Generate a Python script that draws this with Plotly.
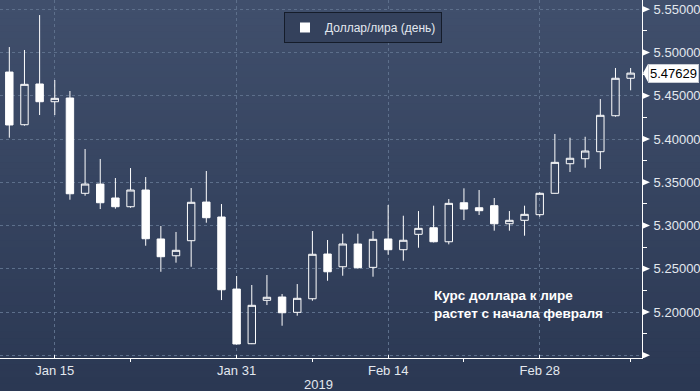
import plotly.graph_objects as go

# ---------------- data ----------------
dates = [
    "2019-01-09", "2019-01-10", "2019-01-11", "2019-01-14", "2019-01-15", "2019-01-16",
    "2019-01-17", "2019-01-18", "2019-01-21", "2019-01-22", "2019-01-23", "2019-01-24",
    "2019-01-25", "2019-01-28", "2019-01-29", "2019-01-30", "2019-01-31", "2019-02-01",
    "2019-02-04", "2019-02-05", "2019-02-06", "2019-02-07", "2019-02-08", "2019-02-11",
    "2019-02-12", "2019-02-13", "2019-02-14", "2019-02-15", "2019-02-18", "2019-02-19",
    "2019-02-20", "2019-02-21", "2019-02-22", "2019-02-25", "2019-02-26", "2019-02-27",
    "2019-02-28", "2019-03-01", "2019-03-04", "2019-03-05", "2019-03-06", "2019-03-07",
    "2019-03-08",
]
opens = [
    5.4856, 5.4775, 5.4166, 5.4637, 5.4432, 5.4475,
    5.3373, 5.3480, 5.3319, 5.3218, 5.3411, 5.2845,
    5.2651, 5.2825, 5.3272, 5.3099, 5.2266, 5.1634,
    5.2136, 5.2174, 5.1997, 5.2154, 5.2671, 5.2524,
    5.2787, 5.2517, 5.2845, 5.2721, 5.2899, 5.2975,
    5.2813, 5.3264, 5.3206, 5.3230, 5.3021, 5.3061,
    5.3126, 5.3373, 5.3715, 5.3773, 5.3854, 5.4270,
    5.4703,
]
highs = [
    5.4990, 5.5064, 5.5030, 5.5434, 5.4683, 5.4556,
    5.3885, 5.3770, 5.3550, 5.3665, 5.3561, 5.2995,
    5.2926, 5.3434, 5.3631, 5.3249, 5.2417, 5.2313,
    5.2428, 5.2209, 5.2324, 5.2937, 5.2833, 5.2906,
    5.2906, 5.2937, 5.3238, 5.3114, 5.3168, 5.3230,
    5.3307, 5.3431, 5.3411, 5.3319, 5.3168, 5.3230,
    5.3385, 5.4059, 5.4016, 5.4027, 5.4463, 5.4822,
    5.4822,
]
lows = [
    5.4700, 5.4016, 5.4155, 5.4278, 5.4278, 5.3299,
    5.3345, 5.3191, 5.3195, 5.3206, 5.2767, 5.2466,
    5.2571, 5.2524, 5.3033, 5.2139, 5.1625, 5.1630,
    5.2081, 5.1842, 5.1958, 5.2131, 5.2362, 5.2420,
    5.2501, 5.2409, 5.2663, 5.2594, 5.2744, 5.2805,
    5.2783, 5.3064, 5.3122, 5.2941, 5.2941, 5.2883,
    5.3102, 5.3370, 5.3619, 5.3669, 5.3654, 5.4259,
    5.4564,
]
closes = [
    5.4767, 5.4163, 5.4633, 5.4432, 5.4471, 5.3368,
    5.3480, 5.3264, 5.3218, 5.3411, 5.2848, 5.2640,
    5.2714, 5.3269, 5.3091, 5.2258, 5.1631, 5.2078,
    5.2171, 5.1992, 5.2159, 5.2668, 5.2466, 5.2787,
    5.2513, 5.2841, 5.2721, 5.2830, 5.2968, 5.2813,
    5.3257, 5.3191, 5.3172, 5.3021, 5.3061, 5.3130,
    5.3373, 5.3731, 5.3778, 5.3862, 5.4275, 5.4703,
    5.47629,
]

x_tick_dates = ["2019-01-15", "2019-01-31", "2019-02-14", "2019-02-28"]
x_tick_labels = ["Jan 15", "Jan 31", "Feb 14", "Feb 28"]
x_minor_dates = ["2019-01-22", "2019-02-07", "2019-02-21", "2019-03-08"]
y_tick_values = [5.15, 5.20, 5.25, 5.30, 5.35, 5.40, 5.45, 5.50, 5.55]
y_tick_labels = [""] + ["%.5f" % v for v in y_tick_values[1:]]
series_name = "Доллар/лира (день)"
note_text = "Курс доллара к лире<br>растет с начала февраля"
year_label = "2019"

# ---------------- figure ----------------
W, H = 700, 391
ML, MR, MT, MB = 0, 58, 0, 33
PW, PH = W - ML - MR, H - MT - MB

FONT = "Liberation Sans, Arial, sans-serif"
TXT = "#e3e8ef"
GRID = "#5d6f8b"

fig = go.Figure()
fig.add_trace(go.Candlestick(
    x=dates, open=opens, high=highs, low=lows, close=closes,
    increasing=dict(line=dict(color="white", width=1), fillcolor="rgba(0,0,0,0)"),
    decreasing=dict(line=dict(color="white", width=1), fillcolor="white"),
    whiskerwidth=0, showlegend=False, hoverinfo="skip",
))
fig.add_trace(go.Scatter(
    x=[None], y=[None], mode="markers", name=series_name,
    marker=dict(symbol="square", size=10, color="white"),
))

# background gradient stripes
shapes = []
top_c = (64, 79, 108)
bot_c = (43, 56, 83)
N = 60
y_top = 1.0
y_bot = -MB / PH
for i in range(N):
    t = i / (N - 1)
    c = tuple(round(top_c[k] + (bot_c[k] - top_c[k]) * t) for k in range(3))
    y1 = y_top - (y_top - y_bot) * i / N
    y0 = y_top - (y_top - y_bot) * (i + 1) / N
    shapes.append(dict(type="rect", xref="paper", yref="paper", x0=-0.01, x1=W / PW + 0.01,
                       y0=y0 - 0.002, y1=y1 + 0.002, line=dict(width=0),
                       fillcolor="rgb(%d,%d,%d)" % c, layer="below"))

# triangular tick markers on the right axis
for v in y_tick_values:
    shapes.append(dict(type="path", xref="paper", yref="y", xsizemode="pixel", ysizemode="pixel",
                       xanchor=1, yanchor=v, path="M 0,-3.5 L 8,0 L 0,3.5 Z",
                       fillcolor="white", line=dict(width=0), layer="above"))

# last price tag arrow
shapes.append(dict(type="path", xref="paper", yref="y", xsizemode="pixel", ysizemode="pixel",
                   xanchor=1, yanchor=closes[-1], path="M 1,0 L 6,9 L 6,-9 Z",
                   fillcolor="white", line=dict(width=0), layer="above"))

annotations = [
    dict(xref="paper", yref="y", x=1, y=closes[-1], xanchor="left", yanchor="middle",
         xshift=6, text="%.5f" % closes[-1], showarrow=False, bgcolor="white",
         bordercolor="#c8ccd4", borderwidth=1, borderpad=1,
         font=dict(family=FONT, size=13, color="black")),
    dict(xref="paper", yref="paper", x=318 / PW, y=1 - 384.5 / PH, xanchor="center",
         yanchor="middle", text=year_label, showarrow=False,
         font=dict(family=FONT, size=13, color=TXT)),
    dict(xref="paper", yref="paper", x=432 / PW, y=1 - 304.5 / PH, xanchor="left",
         yanchor="middle", align="left", text="<b>" + note_text.replace("<br>", "</b><br><b>") + "</b>",
         showarrow=False, font=dict(family=FONT, size=13.5, color="white")),
]

fig.update_layout(
    width=W, height=H,
    margin=dict(l=ML, r=MR, t=MT, b=MB, autoexpand=False),
    paper_bgcolor="#35425e", plot_bgcolor="rgba(0,0,0,0)",
    font=dict(family=FONT, color=TXT, size=13),
    showlegend=True,
    legend=dict(x=363 / PW, y=1 - 12 / PH, xanchor="center", yanchor="top",
                bgcolor="#34415c", bordercolor="#151c2a", borderwidth=1,
                font=dict(family=FONT, size=12, color=TXT), itemwidth=30),
    shapes=shapes,
    annotations=annotations,
    hovermode=False,
    xaxis=dict(
        type="date",
        range=["2019-01-09 09:15", "2019-03-08 18:00"],
        rangebreaks=[dict(bounds=["sat", "mon"])],
        rangeslider=dict(visible=False),
        tickmode="array", tickvals=x_tick_dates, ticktext=x_tick_labels,
        ticks="inside", ticklen=3, tickcolor="white", tickwidth=1,
        showline=True, linecolor="white", linewidth=1,
        showgrid=True, gridcolor=GRID, gridwidth=1, griddash="3px,3px",
        minor=dict(tickmode="array", tickvals=x_minor_dates, ticks="outside",
                   ticklen=3, tickcolor="white", tickwidth=1, showgrid=False),
        zeroline=False, tickfont=dict(family=FONT, size=13, color=TXT),
    ),
    yaxis=dict(
        side="right",
        range=[5.1469, 5.5608],
        tickmode="array", tickvals=y_tick_values, ticktext=y_tick_labels,
        ticks="", ticklabelstandoff=8,
        showline=True, linecolor="white", linewidth=1,
        showgrid=True, gridcolor=GRID, gridwidth=1, griddash="3px,3px",
        minor=dict(dtick=0.025, tick0=5.15, ticks="outside", ticklen=4,
                   tickcolor="white", tickwidth=1, showgrid=False),
        zeroline=False, tickfont=dict(family=FONT, size=13, color=TXT),
    ),
)

fig.write_html(
    "out.html",
    config={"displayModeBar": False, "staticPlot": True},
    post_script="document.body.style.margin='0';document.body.style.padding='0';"
                "document.body.style.overflow='hidden';",
)
